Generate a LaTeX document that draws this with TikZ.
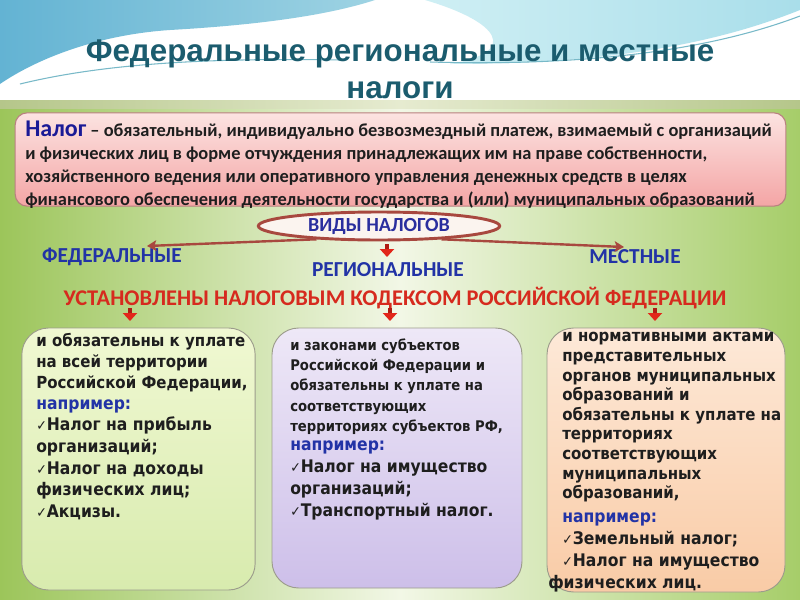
\documentclass[tikz,border=0pt]{standalone}
\usepackage{fontspec}
\setmainfont{Carlito}
\newfontfamily\titlefont{Liberation Sans}
\newfontfamily\cardfont[FakeStretch=0.9]{DejaVu Sans}
\usetikzlibrary{arrows.meta,shapes.geometric,positioning}
\definecolor{bgleft}{HTML}{9CC55A}
\definecolor{bgright}{HTML}{A6CD69}
\definecolor{bgmid}{HTML}{F2F7E6}
\definecolor{skyleft}{HTML}{63B3D3}
\definecolor{skyright}{HTML}{9ED3E3}
\definecolor{iceleft}{HTML}{CFEFF4}
\definecolor{iceright}{HTML}{A9DEEA}
\definecolor{swooshteal}{HTML}{3E9BB0}
\definecolor{stripl}{HTML}{B5C68A}
\definecolor{stripm}{HTML}{E6EBD0}
\definecolor{titleteal}{HTML}{1B5C6E}
\definecolor{defpinktop}{HTML}{FCE3E1}
\definecolor{defpinkbot}{HTML}{F4A5A5}
\definecolor{defedge}{HTML}{B98080}
\definecolor{taxblue}{HTML}{1A1A96}
\definecolor{ink}{HTML}{1E1E1E}
\definecolor{ovalred}{HTML}{A8483F}
\definecolor{ovalfill}{HTML}{FBF4EF}
\definecolor{ovaltext}{HTML}{2A2E9E}
\definecolor{kindblue}{HTML}{2233A6}
\definecolor{codered}{HTML}{D62A1E}
\definecolor{arrowred}{HTML}{E2261A}
\definecolor{arrowdark}{HTML}{B01C14}
\definecolor{cardedge}{HTML}{9C9C8C}
\definecolor{fedtop}{HTML}{F0F8D2}
\definecolor{fedbot}{HTML}{D8EBAE}
\definecolor{regtop}{HTML}{EEE8F7}
\definecolor{regbot}{HTML}{CDBFE9}
\definecolor{loctop}{HTML}{FDE9D8}
\definecolor{locbot}{HTML}{F9CBA6}
\newcommand\okmark{{\fontsize{10.5}{10}\selectfont ✓}}

\begin{document}
\begin{tikzpicture}[x=0.75pt, y=-0.75pt,
  swoosh/.style={draw=swooshteal!70, line width=0.8pt},
  defbox/.style={rounded corners=9pt, top color=defpinktop, bottom color=defpinkbot, draw=defedge, line width=0.8pt},
  deftxt/.style={anchor=north west, inner sep=0, align=left, text=ink, font=\bfseries\fontsize{13.8}{17.25}\selectfont},
  card/.style={rounded corners=20pt, draw=cardedge, line width=0.7pt},
  cardtxt/.style 2 args={anchor=north west, inner sep=0, align=left, text=ink, font=\cardfont\bfseries\fontsize{#1}{#2}\selectfont},
  cardex/.style={anchor=north west, inner sep=0, align=left, text=ink, font=\cardfont\bfseries\fontsize{13}{#1}\selectfont},
  kindlbl/.style={font=\bfseries\fontsize{16}{16}\selectfont, text=kindblue, inner sep=0},
  kindarr/.style={draw=ovalred, line width=1.8pt, -{Stealth[length=7pt,width=8pt,inset=1.5pt]}},
  downarr/.style={draw=arrowdark, line width=3.6pt, -{Triangle[length=6pt,width=10.5pt,color=arrowred]}}
]
\useasboundingbox (0,0) rectangle (800,600);
\shade[left color=bgleft, right color=bgright, middle color=bgmid] (0,100) rectangle (800,600);
\fill[white] (0,0) rectangle (800,101);
\shade[left color=skyleft, right color=skyright] (0,0) -- (375,0) .. controls (320,18) and (240,26) .. (170,30) .. controls (95,35) and (35,60) .. (0,84) -- cycle;
\shade[left color=iceleft, right color=iceright] (425,0) -- (800,0) -- (800,10) .. controls (710,46) and (600,64) .. (450,64) .. controls (520,52) and (500,22) .. (425,0) -- cycle;
\draw[swoosh] (20,84) .. controls (110,62) and (220,58) .. (340,60);
\draw[swoosh] (800,16) .. controls (700,54) and (570,66) .. (430,62);
\shade[left color=stripl, right color=stripl, middle color=stripm] (0,100) rectangle (800,108);

\node[font=\titlefont\bfseries\fontsize{23.5}{28}\selectfont, text=titleteal, align=center] (title) at (400,69) {Федеральные региональные и местные\\налоги};

\node[defbox, minimum width=578pt, minimum height=70pt] (defn) at (400.5,159.5) {};
\node[deftxt] (deftext) at (25,121) {{\fontsize{18}{18}\selectfont\color{taxblue}Налог} – обязательный, индивидуально безвозмездный платеж, взимаемый с организаций\\и физических лиц в форме отчуждения принадлежащих им на праве собственности,\\хозяйственного ведения или оперативного управления денежных средств в целях\\финансового обеспечения деятельности государства и (или) муниципальных образований};

\node[ellipse, draw=ovalred, line width=2.2pt, fill=ovalfill, minimum width=181pt, minimum height=21pt, inner sep=0, font=\bfseries\fontsize{15}{15}\selectfont, text=ovaltext] (kinds) at (379,226) {ВИДЫ НАЛОГОВ};

\node[kindlbl] (fed) at (112,257) {ФЕДЕРАЛЬНЫЕ};
\node[kindlbl] (reg) at (388,270) {РЕГИОНАЛЬНЫЕ};
\node[kindlbl] (loc) at (635,257) {МЕСТНЫЕ};
\coordinate (fedtip) at (147,246);
\coordinate (loctip) at (624,247);
\draw[kindarr] (kinds.192) -- (fedtip);
\draw[kindarr] (kinds.348) -- (loctip);
\coordinate (regtail) at (387,244);
\coordinate (reghead) at (387,257);
\draw[downarr] (regtail) -- (reghead);

\node[font=\bfseries\fontsize{16.8}{17}\selectfont, text=codered] (code) at (395,298) {УСТАНОВЛЕНЫ НАЛОГОВЫМ КОДЕКСОМ РОССИЙСКОЙ ФЕДЕРАЦИИ};
\foreach \n/\x in {fed/130,reg/390,loc/655}{
  \coordinate (\n a) at (\x,308);
  \coordinate (\n b) at (\x,321);
  \draw[downarr] (\n a) -- (\n b);
}

\node[card, top color=fedtop, bottom color=fedbot, minimum width=175pt, minimum height=196.5pt] (fedcard) at (138.5,459) {};
\node[card, top color=regtop, bottom color=regbot, minimum width=187.5pt, minimum height=195pt] (regcard) at (397,458) {};
\node[card, top color=loctop, bottom color=locbot, minimum width=178.5pt, minimum height=198pt] (loccard) at (666,460) {};

\node[cardtxt={12.5}{16}] (fedtxt) at (36,331) {\strut и обязательны к уплате\\на всей территории\\Российской Федерации,};
\node[cardex=16.2] (fedex) at (36,394) {\strut\textcolor{kindblue}{например:}\\\okmark Налог на прибыль\\организаций;\\\okmark Налог на доходы\\физических лиц;\\\okmark Акцизы.};

\node[cardtxt={11}{15.2}] (regtxt) at (290,336) {\strut и законами субъектов\\Российской Федерации и\\обязательны к уплате на\\соответствующих\\территориях субъектов РФ,};
\node[cardex=16.5] (regex) at (290,435) {\strut\textcolor{kindblue}{например:}\\\okmark Налог на имущество\\организаций;\\\okmark Транспортный налог.};

\node[cardtxt={12.5}{14.7}] (loctxt) at (562,328) {\strut и нормативными актами\\представительных\\органов муниципальных\\образований и\\обязательны к уплате на\\территориях\\соответствующих\\муниципальных\\образований,};
\node[cardex=16.5] (locex) at (562,507) {\strut\textcolor{kindblue}{например:}\\\okmark Земельный налог;\\\okmark Налог на имущество\\\hspace*{-10.5pt}физических лиц.};
\end{tikzpicture}
\end{document}
